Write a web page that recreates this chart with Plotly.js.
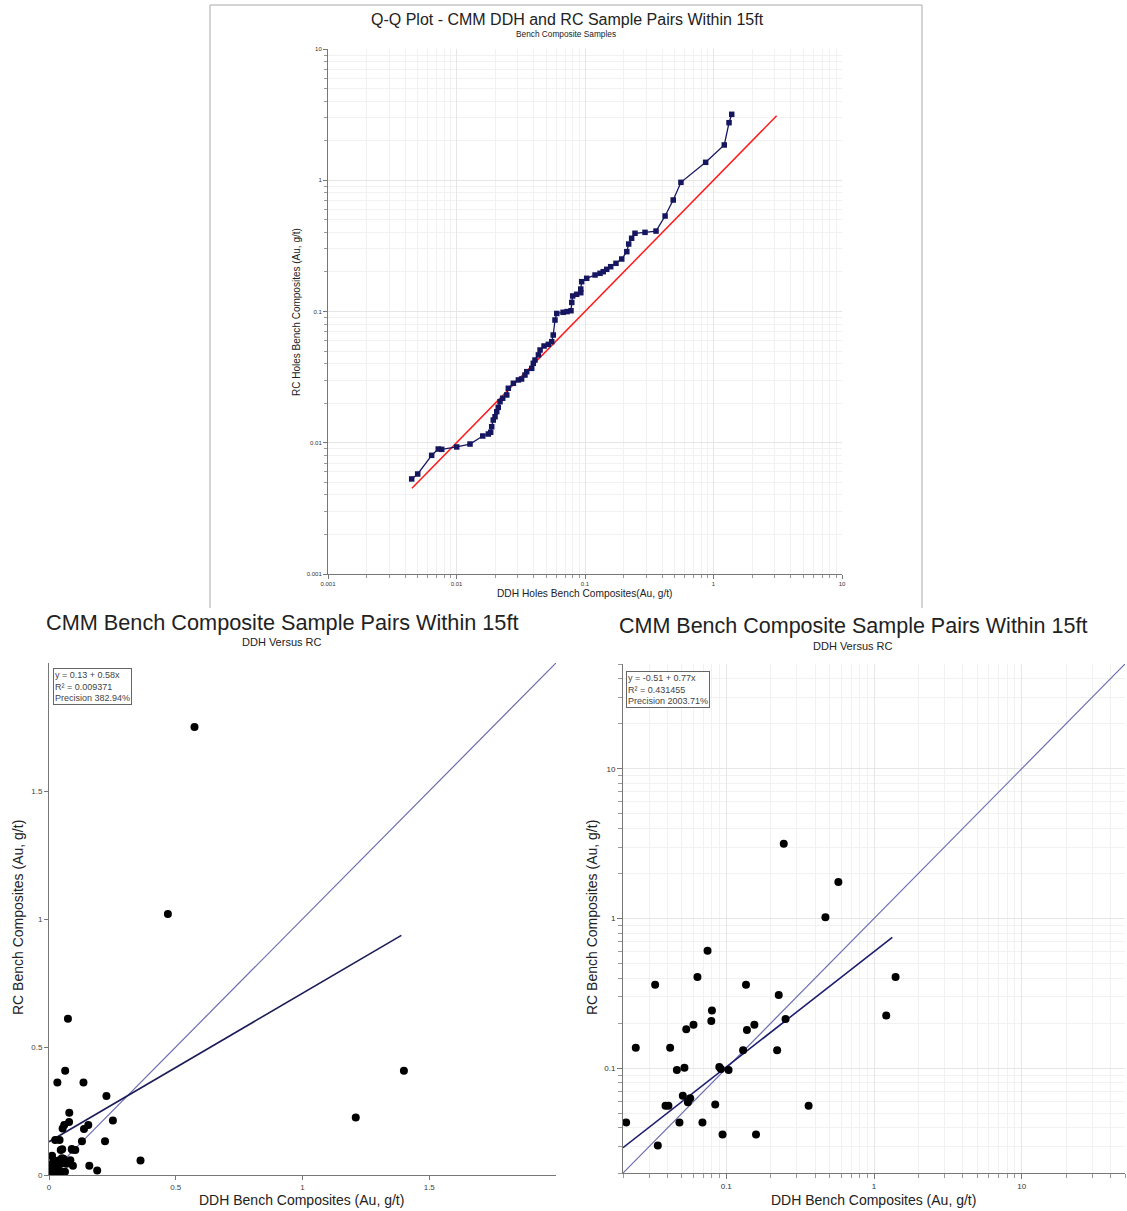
<!DOCTYPE html>
<html>
<head>
<meta charset="utf-8">
<script src="https://cdn.plot.ly/plotly-3.0.1.min.js"></script>
<style>html,body{margin:0;padding:0;background:#fff;}#chart{width:1127px;height:1211px;}</style>
</head>
<body>
<div id="chart"></div>
<script>
// ---------- DATA ----------
// Q-Q plot (sorted quantiles)
const qqDDH = [0.00448,0.00499,0.00641,0.00721,0.00767,0.01004,0.01274,0.0160,0.01769,0.01845,0.01879,0.01932,0.01995,0.02056,0.02113,0.02181,0.02289,0.0246,0.0253,0.0277,0.0303,0.0321,0.0341,0.0352,0.0385,0.0396,0.0408,0.0434,0.0447,0.0480,0.0518,0.0551,0.0566,0.0584,0.0603,0.0675,0.0725,0.0778,0.0789,0.0802,0.0861,0.0927,0.0927,0.0942,0.1031,0.1197,0.1309,0.1386,0.1476,0.1585,0.1742,0.1932,0.2115,0.2188,0.2306,0.2449,0.2931,0.357,0.420,0.486,0.558,0.869,1.213,1.321,1.386];
const qqRC  = [0.00530,0.00578,0.00802,0.00896,0.00891,0.00929,0.00978,0.01126,0.01166,0.01202,0.01325,0.01490,0.01579,0.01725,0.01862,0.02056,0.02182,0.02312,0.0260,0.0284,0.0301,0.0306,0.0328,0.0348,0.0369,0.0403,0.0427,0.0467,0.0509,0.0546,0.0562,0.0589,0.0662,0.0861,0.0966,0.0986,0.0998,0.1014,0.1172,0.1313,0.1352,0.139,0.1483,0.1687,0.179,0.1897,0.1954,0.201,0.2096,0.2195,0.2329,0.2512,0.2856,0.3266,0.3613,0.3945,0.401,0.410,0.534,0.707,0.964,1.37,1.857,2.745,3.18];
const qqRefLine = [0.0045, 3.1];
const qqTicks = [0.001, 0.01, 0.1, 1, 10];
const qqTickText = ['0.001', '0.01', '0.1', '1', '10'];

// Sample pairs (DDH vs RC, Au g/t)
const ddh = [0.245,0.574,0.469,0.0747,0.0638,1.40,0.0330,0.136,0.2265,0.080,0.0792,1.21,0.252,0.060,0.0536,0.155,0.138,0.0244,0.0417,0.130,0.221,0.0463,0.0521,0.0897,0.092,0.1037,0.0508,0.057,0.055,0.0388,0.0406,0.0842,0.361,0.021,0.0482,0.069,0.0944,0.159,0.0344,
             0.004,0.011,0.037,0.050,0.024,0.063,0.190,0.008,0.015,0.030,0.017,0.012];
const rc  = [3.16,1.75,1.02,0.610,0.407,0.407,0.361,0.361,0.309,0.243,0.207,0.225,0.213,0.195,0.182,0.195,0.180,0.137,0.137,0.132,0.132,0.0974,0.101,0.102,0.0989,0.0974,0.0656,0.063,0.0593,0.0562,0.0562,0.0574,0.0562,0.0435,0.0435,0.0435,0.0362,0.0362,0.0305,
             0.039,0.017,0.015,0.012,0.010,0.013,0.018,0.006,0.025,0.005,0.059,0.075];

// Regression fits
const linFit = {b0: 0.13, b1: 0.58, xr: [0, 1.39]};
const logFit = {b0: -0.51, b1: 0.77, xr: [0.02, 1.33]};   // ln-space fit
const linRange = [0, 2];
const linTicks = [0, 0.5, 1, 1.5];
const logRange = [0.02, 50];
const logTicks = [0.1, 1, 10];
const linStatsText = 'y = 0.13 + 0.58x<br>R² = 0.009371<br>Precision 382.94%';
const logStatsText = 'y = -0.51 + 0.77x<br>R² = 0.431455<br>Precision 2003.71%';

// ---------- LAYOUT HELPERS ----------
const W = 1127, H = 1211;
const X = p => p / W, Y = p => 1 - p / H;
function logMinor(a, b) { const v = []; for (let k = a; k < b; k++) for (let m = 2; m <= 9; m++) v.push(m * Math.pow(10, k)); return v; }

const FONT = 'Liberation Sans, Arial, sans-serif';

// ---------- TRACES ----------
const traces = [];
traces.push({x: qqRefLine, y: qqRefLine, xaxis: 'x', yaxis: 'y', mode: 'lines', line: {color: '#ff1a1a', width: 1.5}, hoverinfo: 'skip'});
traces.push({x: qqDDH, y: qqRC, xaxis: 'x', yaxis: 'y', mode: 'lines+markers', line: {color: '#161660', width: 1.3}, marker: {symbol: 'square', size: 5.5, color: '#161660'}});

// bottom-left linear
traces.push({x: linRange, y: linRange, xaxis: 'x2', yaxis: 'y2', mode: 'lines', line: {color: '#6b6bb0', width: 1.2}});
traces.push({x: linFit.xr, y: linFit.xr.map(v => linFit.b0 + linFit.b1 * v), xaxis: 'x2', yaxis: 'y2', mode: 'lines', line: {color: '#1c1c5a', width: 1.6}});
traces.push({x: ddh, y: rc, xaxis: 'x2', yaxis: 'y2', mode: 'markers', marker: {size: 8, color: '#000'}});

// bottom-right log
const inLog = ddh.map((v, i) => v >= logRange[0] && rc[i] >= logRange[0]);
traces.push({x: logRange, y: logRange, xaxis: 'x3', yaxis: 'y3', mode: 'lines', line: {color: '#6b6bb0', width: 1.2}});
const lgx = [];
for (let i = 0; i <= 40; i++) lgx.push(Math.exp(Math.log(logFit.xr[0]) + (Math.log(logFit.xr[1]) - Math.log(logFit.xr[0])) * i / 40));
traces.push({x: lgx, y: lgx.map(v => Math.exp(logFit.b0 + logFit.b1 * Math.log(v))), xaxis: 'x3', yaxis: 'y3', mode: 'lines', line: {color: '#1c1c70', width: 1.6}});
traces.push({x: ddh.filter((v, i) => inLog[i]), y: rc.filter((v, i) => inLog[i]), xaxis: 'x3', yaxis: 'y3', mode: 'markers', marker: {size: 8, color: '#000'}});

// ---------- AXES ----------
const baseAx = {showline: true, linecolor: '#777', linewidth: 1, ticks: 'outside', tickcolor: '#777', zeroline: false, mirror: false, fixedrange: true};
function logAxis(dom, anchor, range, lo, hi, fsize, tlen, tv, tt) {
  return Object.assign({}, baseAx, {
    type: 'log', range: range, domain: dom, anchor: anchor, tickmode: 'array', tickvals: tv, ticktext: tt, ticklen: tlen,
    tickfont: {family: FONT, size: fsize, color: '#333'},
    showgrid: true, gridcolor: '#e6e6e6', gridwidth: 1,
    minor: {tickmode: 'array', tickvals: logMinor(lo, hi), ticks: 'outside', ticklen: tlen - 1, tickcolor: '#999', showgrid: true, gridcolor: '#f1f1f1'}
  });
}
const lgR = [Math.log10(logRange[0]), Math.log10(logRange[1])];
const logTickText = logTicks.map(String);

const layout = {
  width: W, height: H, margin: {l: 0, r: 0, t: 0, b: 0},
  paper_bgcolor: '#fff', plot_bgcolor: '#fff', showlegend: false,
  font: {family: FONT, color: '#222'},
  xaxis: logAxis([X(328), X(842)], 'y', [-3, 1], -3, 1, 6, 4, qqTicks, qqTickText),
  yaxis: logAxis([Y(574), Y(49)], 'x', [-3, 1], -3, 1, 6, 4, qqTicks, qqTickText),
  xaxis2: Object.assign({}, baseAx, {range: linRange, domain: [X(49), X(556)], anchor: 'y2', tickvals: linTicks, ticklen: 4, showgrid: false, tickfont: {family: FONT, size: 8, color: '#444'}}),
  yaxis2: Object.assign({}, baseAx, {range: linRange, domain: [Y(1175), Y(663)], anchor: 'x2', tickvals: linTicks, ticklen: 4, showgrid: false, tickfont: {family: FONT, size: 8, color: '#444'}}),
  xaxis3: logAxis([X(623), X(1125)], 'y3', lgR, -2, 2, 8, 5, logTicks, logTickText),
  yaxis3: logAxis([Y(1173), Y(664)], 'x3', lgR, -2, 2, 8, 5, logTicks, logTickText),
  shapes: [
    {type: 'line', xref: 'paper', yref: 'paper', x0: X(210), x1: X(210), y0: Y(5), y1: Y(608), line: {color: '#aaa', width: 1}},
    {type: 'line', xref: 'paper', yref: 'paper', x0: X(210), x1: X(922), y0: Y(5), y1: Y(5), line: {color: '#aaa', width: 1}},
    {type: 'line', xref: 'paper', yref: 'paper', x0: X(922), x1: X(922), y0: Y(5), y1: Y(608), line: {color: '#aaa', width: 1}}
  ],
  annotations: []
};

function ann(text, px, py, size, extra) {
  layout.annotations.push(Object.assign({text: text, xref: 'paper', yref: 'paper', x: X(px), y: Y(py), xanchor: 'center', yanchor: 'middle', showarrow: false, font: {family: FONT, size: size, color: '#222'}}, extra || {}));
}
ann('Q-Q Plot - CMM DDH and RC Sample Pairs Within 15ft', 567, 19, 16);
ann('Bench Composite Samples', 566, 34, 8.3);
ann('DDH Holes Bench Composites(Au, g/t)', 585, 593, 10.2);
ann('RC Holes Bench Composites (Au, g/t)', 297, 312, 10, {textangle: -90});

ann('CMM Bench Composite Sample Pairs Within 15ft', 282, 622, 21.7);
ann('DDH Versus RC', 282, 642, 11);
ann('DDH Bench Composites (Au, g/t)', 301, 1200, 14);
ann('RC Bench Composites (Au, g/t)', 18, 918, 14, {textangle: -90});

ann('CMM Bench Composite Sample Pairs Within 15ft', 853, 626, 21.5);
ann('DDH Versus RC', 853, 646, 11);
ann('DDH Bench Composites (Au, g/t)', 873, 1200, 14);
ann('RC Bench Composites (Au, g/t)', 592, 918, 14, {textangle: -90});

const boxStyle = {xanchor: 'left', yanchor: 'top', align: 'left', bordercolor: '#666', borderwidth: 1, borderpad: 1, bgcolor: '#fff', font: {family: FONT, size: 9, color: '#444'}};
ann(linStatsText, 53, 668, 9, boxStyle);
ann(logStatsText, 626, 671, 9, boxStyle);

Plotly.newPlot('chart', traces, layout, {displayModeBar: false, staticPlot: true});
</script>
</body>
</html>
